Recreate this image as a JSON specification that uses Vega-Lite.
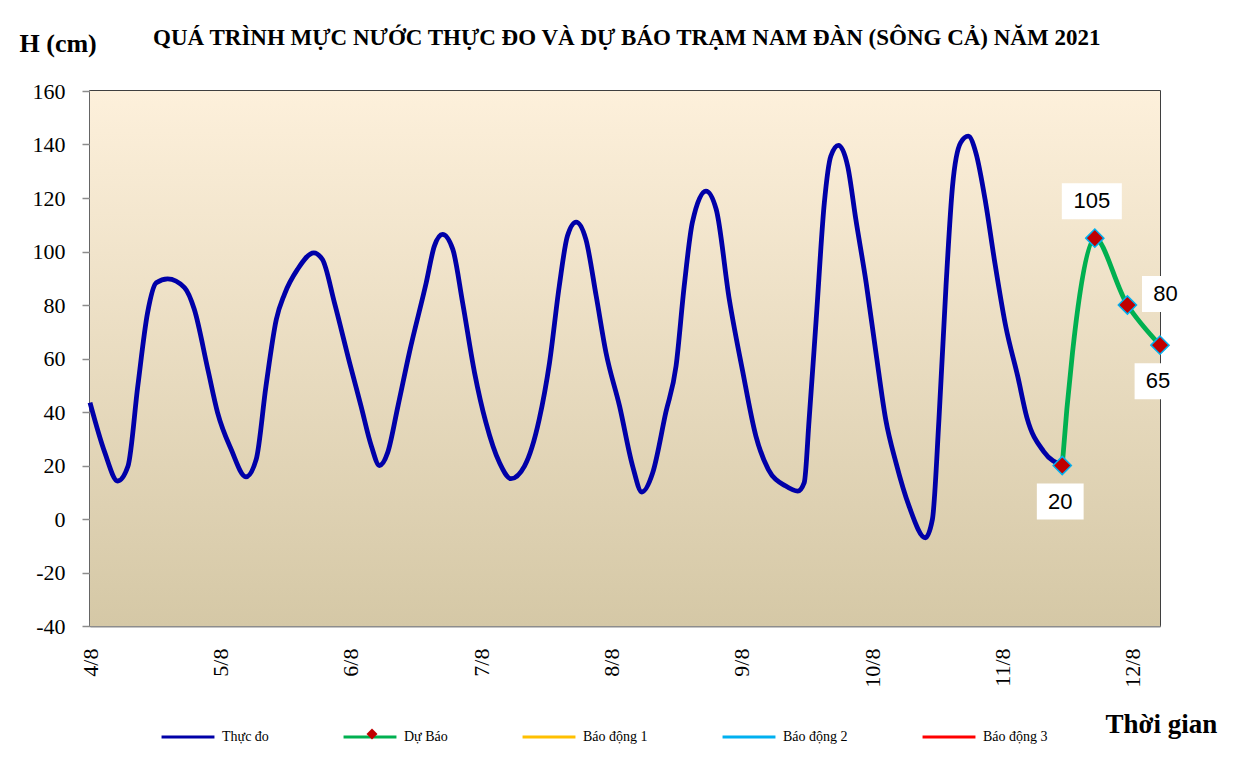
{
  "$schema": "https://vega.github.io/schema/vega-lite/v6.json",
  "width": 1070,
  "height": 535,
  "autosize": {"type": "none"},
  "padding": {"left": 90, "top": 91, "right": 89, "bottom": 147},
  "background": "white",
  "title": {
    "text": "QUÁ TRÌNH  MỰC NƯỚC THỰC ĐO VÀ DỰ BÁO  TRẠM  NAM  ĐÀN (SÔNG CẢ) NĂM 2021",
    "anchor": "start",
    "dx": 134,
    "offset": -20,
    "font": "Times New Roman",
    "fontSize": 23,
    "fontWeight": "bold",
    "color": "black"
  },
  "datasets": {
    "thuc_do": [
      {"gio": 0, "muc": 43.5, "loai": "Thực đo"},
      {"gio": 2.7, "muc": 25, "loai": "Thực đo"},
      {"gio": 5.1, "muc": 14.2, "loai": "Thực đo"},
      {"gio": 7.0, "muc": 19.8, "loai": "Thực đo"},
      {"gio": 8.8, "muc": 49.7, "loai": "Thực đo"},
      {"gio": 10.6, "muc": 77.1, "loai": "Thực đo"},
      {"gio": 12.2, "muc": 88.3, "loai": "Thực đo"},
      {"gio": 14.3, "muc": 89.8, "loai": "Thực đo"},
      {"gio": 17.4, "muc": 86.5, "loai": "Thực đo"},
      {"gio": 19.2, "muc": 78.4, "loai": "Thực đo"},
      {"gio": 21.7, "muc": 55.9, "loai": "Thực đo"},
      {"gio": 23.5, "muc": 39.7, "loai": "Thực đo"},
      {"gio": 26.0, "muc": 26, "loai": "Thực đo"},
      {"gio": 28.7, "muc": 15.8, "loai": "Thực đo"},
      {"gio": 30.6, "muc": 22.3, "loai": "Thực đo"},
      {"gio": 32.4, "muc": 49.7, "loai": "Thực đo"},
      {"gio": 34.3, "muc": 74.6, "loai": "Thực đo"},
      {"gio": 35.8, "muc": 84, "loai": "Thực đo"},
      {"gio": 38.2, "muc": 93.3, "loai": "Thực đo"},
      {"gio": 41.2, "muc": 99.5, "loai": "Thực đo"},
      {"gio": 42.8, "muc": 97, "loai": "Thực đo"},
      {"gio": 45.0, "muc": 80.9, "loai": "Thực đo"},
      {"gio": 47.8, "muc": 58.4, "loai": "Thực đo"},
      {"gio": 49.9, "muc": 42.2, "loai": "Thực đo"},
      {"gio": 51.8, "muc": 27.3, "loai": "Thực đo"},
      {"gio": 53.3, "muc": 20, "loai": "Thực đo"},
      {"gio": 54.8, "muc": 24.8, "loai": "Thực đo"},
      {"gio": 56.7, "muc": 42.2, "loai": "Thực đo"},
      {"gio": 58.8, "muc": 62.2, "loai": "Thực đo"},
      {"gio": 61.9, "muc": 88.3, "loai": "Thực đo"},
      {"gio": 63.4, "muc": 102, "loai": "Thực đo"},
      {"gio": 64.9, "muc": 106.4, "loai": "Thực đo"},
      {"gio": 66.8, "muc": 100.8, "loai": "Thực đo"},
      {"gio": 68.6, "muc": 80.9, "loai": "Thực đo"},
      {"gio": 70.8, "muc": 54.7, "loai": "Thực đo"},
      {"gio": 72.9, "muc": 36, "loai": "Thực đo"},
      {"gio": 75.4, "muc": 21, "loai": "Thực đo"},
      {"gio": 77.5, "muc": 15.1, "loai": "Thực đo"},
      {"gio": 80.0, "muc": 19.8, "loai": "Thực đo"},
      {"gio": 82.7, "muc": 37.2, "loai": "Thực đo"},
      {"gio": 84.6, "muc": 58.4, "loai": "Thực đo"},
      {"gio": 86.4, "muc": 87.1, "loai": "Thực đo"},
      {"gio": 87.9, "muc": 105.8, "loai": "Thực đo"},
      {"gio": 89.5, "muc": 111, "loai": "Thực đo"},
      {"gio": 91.3, "muc": 104.5, "loai": "Thực đo"},
      {"gio": 93.2, "muc": 83.3, "loai": "Thực đo"},
      {"gio": 95.0, "muc": 62.2, "loai": "Thực đo"},
      {"gio": 97.5, "muc": 42.2, "loai": "Thực đo"},
      {"gio": 99.9, "muc": 19.8, "loai": "Thực đo"},
      {"gio": 101.6, "muc": 10.1, "loai": "Thực đo"},
      {"gio": 103.6, "muc": 17.3, "loai": "Thực đo"},
      {"gio": 106.0, "muc": 39.7, "loai": "Thực đo"},
      {"gio": 107.9, "muc": 57.2, "loai": "Thực đo"},
      {"gio": 109.4, "muc": 87.1, "loai": "Thực đo"},
      {"gio": 110.9, "muc": 110.8, "loai": "Thực đo"},
      {"gio": 113.4, "muc": 122.6, "loai": "Thực đo"},
      {"gio": 115.3, "muc": 115.7, "loai": "Thực đo"},
      {"gio": 117.7, "muc": 82.1, "loai": "Thực đo"},
      {"gio": 120.1, "muc": 55.9, "loai": "Thực đo"},
      {"gio": 122.6, "muc": 31, "loai": "Thực đo"},
      {"gio": 124.9, "muc": 18.5, "loai": "Thực đo"},
      {"gio": 128.1, "muc": 12.3, "loai": "Thực đo"},
      {"gio": 130.3, "muc": 10.4, "loai": "Thực đo"},
      {"gio": 131.5, "muc": 13.6, "loai": "Thực đo"},
      {"gio": 132.4, "muc": 37.2, "loai": "Thực đo"},
      {"gio": 133.7, "muc": 74.6, "loai": "Thực đo"},
      {"gio": 135.2, "muc": 118.2, "loai": "Thực đo"},
      {"gio": 136.4, "muc": 135.7, "loai": "Thực đo"},
      {"gio": 137.8, "muc": 139.7, "loai": "Thực đo"},
      {"gio": 139.5, "muc": 131.9, "loai": "Thực đo"},
      {"gio": 141.0, "muc": 112, "loai": "Thực đo"},
      {"gio": 142.9, "muc": 88.3, "loai": "Thực đo"},
      {"gio": 144.7, "muc": 62.2, "loai": "Thực đo"},
      {"gio": 146.5, "muc": 37.2, "loai": "Thực đo"},
      {"gio": 148.4, "muc": 21, "loai": "Thực đo"},
      {"gio": 150.8, "muc": 4.8, "loai": "Thực đo"},
      {"gio": 153.8, "muc": -7, "loai": "Thực đo"},
      {"gio": 155.1, "muc": -0.1, "loai": "Thực đo"},
      {"gio": 156.3, "muc": 37.2, "loai": "Thực đo"},
      {"gio": 157.6, "muc": 87.1, "loai": "Thực đo"},
      {"gio": 158.8, "muc": 124.4, "loai": "Thực đo"},
      {"gio": 160.3, "muc": 140.7, "loai": "Thực đo"},
      {"gio": 161.7, "muc": 143.1, "loai": "Thực đo"},
      {"gio": 163.1, "muc": 136.9, "loai": "Thực đo"},
      {"gio": 164.9, "muc": 118.2, "loai": "Thực đo"},
      {"gio": 166.5, "muc": 97, "loai": "Thực đo"},
      {"gio": 168.6, "muc": 72, "loai": "Thực đo"},
      {"gio": 170.8, "muc": 53.4, "loai": "Thực đo"},
      {"gio": 172.5, "muc": 37.9, "loai": "Thực đo"},
      {"gio": 175.6, "muc": 25.2, "loai": "Thực đo"},
      {"gio": 179, "muc": 20, "loai": "Thực đo"}
    ],
    "du_bao": [
      {"gio": 179, "muc": 20, "loai": "Dự Báo"},
      {"gio": 185, "muc": 105, "loai": "Dự Báo"},
      {"gio": 191, "muc": 80, "loai": "Dự Báo"},
      {"gio": 197, "muc": 65, "loai": "Dự Báo"}
    ]
  },
  "layer": [
    {
      "data": {"values": [{}]},
      "mark": {
        "type": "rect",
        "color": {
          "gradient": "linear",
          "x1": 0, "y1": 0, "x2": 0, "y2": 1,
          "stops": [
            {"offset": 0, "color": "#fdf0db"},
            {"offset": 1, "color": "#d5c8a6"}
          ]
        }
      },
      "encoding": {}
    },
    {
      "data": {"name": "thuc_do"},
      "mark": {"type": "line", "interpolate": "monotone", "strokeWidth": 4.8},
      "encoding": {
        "x": {
          "field": "gio",
          "type": "quantitative",
          "scale": {"domain": [0, 197], "nice": false, "zero": false},
          "axis": {
            "title": "Thời gian",
            "titleX": 1015,
            "titleY": 106,
            "titleAlign": "left",
            "titleBaseline": "alphabetic",
            "titleFontSize": 27,
            "titleFontWeight": "bold",
            "values": [0, 6, 12, 18, 24, 30, 36, 42, 48, 54, 60, 66, 72, 78, 84, 90, 96, 102, 108, 114, 120, 126, 132, 138, 144, 150, 156, 162, 168, 174, 180, 186, 192],
            "tickSize": -6,
            "labelExpr": "datum.value % 24 == 0 ? (4 + datum.value / 24) + '/8' : ''",
            "labelAngle": 270,
            "labelFont": "Liberation Serif",
            "labelFontSize": 22,
            "labelPadding": 28,
            "labelOverlap": false,
            "labelFlush": false,
            "labelBound": false
          }
        },
        "y": {
          "field": "muc",
          "type": "quantitative",
          "scale": {"domain": [-40, 160], "nice": false},
          "axis": {
            "title": "H (cm)",
            "titleAngle": 0,
            "titleX": -71,
            "titleY": -40,
            "titleAlign": "left",
            "titleBaseline": "alphabetic",
            "titleFontSize": 26,
            "titleFontWeight": "bold",
            "values": [-40, -20, 0, 20, 40, 60, 80, 100, 120, 140, 160],
            "labelExpr": "datum.value + ''",
            "tickSize": 8,
            "labelPadding": 17,
            "labelFont": "Liberation Serif",
            "labelFontSize": 22
          }
        },
        "stroke": {
          "field": "loai",
          "type": "nominal",
          "scale": {
            "domain": ["Thực đo", "Dự Báo", "Báo động 1", "Báo động 2", "Báo động 3"],
            "range": ["#0000a8", "#00b050", "#ffc000", "#00b0f0", "#ff0000"]
          },
          "legend": {
            "orient": "none",
            "legendX": 70,
            "legendY": 618,
            "direction": "horizontal",
            "title": null
          }
        }
      }
    },
    {
      "data": {"name": "du_bao"},
      "mark": {"type": "line", "interpolate": "catmull-rom", "strokeWidth": 4.8},
      "encoding": {
        "x": {"field": "gio", "type": "quantitative"},
        "y": {"field": "muc", "type": "quantitative"},
        "stroke": {"field": "loai", "type": "nominal"}
      }
    },
    {
      "data": {"name": "du_bao"},
      "mark": {
        "type": "point",
        "size": 330,
        "filled": true,
        "fill": "#c00000",
        "stroke": "#00b0f0",
        "strokeWidth": 1.5,
        "opacity": 1
      },
      "encoding": {
        "x": {"field": "gio", "type": "quantitative"},
        "y": {"field": "muc", "type": "quantitative"},
        "shape": {
          "field": "loai",
          "type": "nominal",
          "scale": {"domain": ["Dự Báo"], "range": ["diamond"]},
          "legend": {
            "orient": "none",
            "legendX": 275,
            "legendY": 636,
            "direction": "horizontal",
            "title": null,
            "labelExpr": "''",
            "symbolSize": 120,
            "symbolFillColor": "#c00000",
            "symbolStrokeColor": "#00b0f0",
            "symbolStrokeWidth": 1
          }
        }
      }
    },
    {
      "data": {"name": "du_bao"},
      "transform": [{"filter": "datum.muc == 105"}],
      "mark": {"type": "point", "shape": "M-1,-0.6H1V0.6H-1Z", "size": 3600, "filled": true, "color": "white", "opacity": 1, "xOffset": -3, "yOffset": -37},
      "encoding": {
        "x": {"field": "gio", "type": "quantitative"},
        "y": {"field": "muc", "type": "quantitative"}
      }
    },
    {
      "data": {"name": "du_bao"},
      "transform": [{"filter": "datum.muc == 80"}],
      "mark": {"type": "point", "shape": "M-0.78,-0.6H0.78V0.6H-0.78Z", "size": 3600, "filled": true, "color": "white", "opacity": 1, "xOffset": 38, "yOffset": -11},
      "encoding": {
        "x": {"field": "gio", "type": "quantitative"},
        "y": {"field": "muc", "type": "quantitative"}
      }
    },
    {
      "data": {"name": "du_bao"},
      "transform": [{"filter": "datum.muc == 20 || datum.muc == 65"}],
      "mark": {"type": "point", "shape": "M-0.78,-0.6H0.78V0.6H-0.78Z", "size": 3600, "filled": true, "color": "white", "opacity": 1, "xOffset": -2, "yOffset": 36},
      "encoding": {
        "x": {"field": "gio", "type": "quantitative"},
        "y": {"field": "muc", "type": "quantitative"}
      }
    },
    {
      "data": {"name": "du_bao"},
      "transform": [{"filter": "datum.muc == 105"}],
      "mark": {"type": "text", "font": "Liberation Sans", "fontSize": 22, "color": "black", "dx": -3, "dy": -37},
      "encoding": {
        "x": {"field": "gio", "type": "quantitative"},
        "y": {"field": "muc", "type": "quantitative"},
        "text": {"field": "muc", "type": "quantitative"}
      }
    },
    {
      "data": {"name": "du_bao"},
      "transform": [{"filter": "datum.muc == 80"}],
      "mark": {"type": "text", "font": "Liberation Sans", "fontSize": 22, "color": "black", "dx": 38, "dy": -11},
      "encoding": {
        "x": {"field": "gio", "type": "quantitative"},
        "y": {"field": "muc", "type": "quantitative"},
        "text": {"field": "muc", "type": "quantitative"}
      }
    },
    {
      "data": {"name": "du_bao"},
      "transform": [{"filter": "datum.muc == 20 || datum.muc == 65"}],
      "mark": {"type": "text", "font": "Liberation Sans", "fontSize": 22, "color": "black", "dx": -2, "dy": 36},
      "encoding": {
        "x": {"field": "gio", "type": "quantitative"},
        "y": {"field": "muc", "type": "quantitative"},
        "text": {"field": "muc", "type": "quantitative"}
      }
    }
  ],
  "config": {
    "font": "Times New Roman",
    "view": {"stroke": "black", "strokeWidth": 1.5},
    "axis": {
      "labelFont": "Liberation Serif",
      "labelColor": "black",
      "titleFont": "Times New Roman",
      "titleColor": "black",
      "domainColor": "#8c8c8c",
      "domainWidth": 2,
      "tickColor": "#8c8c8c",
      "tickWidth": 1.5,
      "grid": false
    },
    "legend": {
      "symbolType": "stroke",
      "symbolSize": 2800,
      "symbolStrokeWidth": 3,
      "labelFont": "Times New Roman",
      "labelFontSize": 14,
      "labelColor": "black",
      "labelOffset": 6,
      "columnPadding": 68
    }
  }
}
